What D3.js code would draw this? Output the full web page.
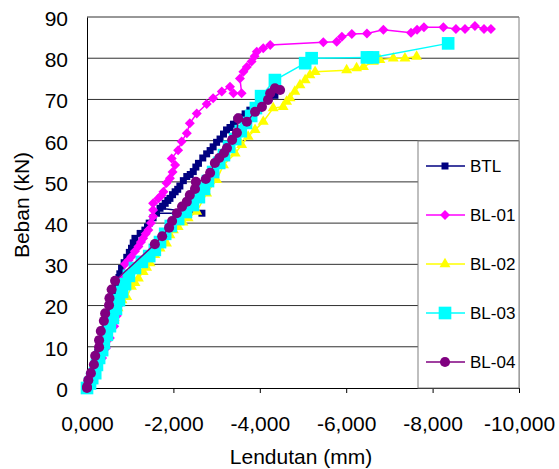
<!DOCTYPE html>
<html>
<head>
<meta charset="utf-8">
<script src="https://cdn.jsdelivr.net/npm/d3@7"></script>
<style>
  body { margin: 0; background: #fff; }
  svg text { font-family: "Liberation Sans", Arial, sans-serif; fill: #000; }
</style>
</head>
<body>
<div id="chart"></div>
<script>
// lendutan (mm), beban (kN) per benda uji
const btl = [[0,0],[-0.03,0.8],[-0.05,1.5],[-0.09,2.7],[-0.12,3.9],[-0.16,5.1],[-0.19,6.3],[-0.22,7.5],[-0.25,8.7],[-0.29,10.0],[-0.32,11.2],[-0.36,12.4],[-0.39,13.6],[-0.43,14.8],[-0.46,16.0],[-0.50,17.2],[-0.53,18.4],[-0.57,19.7],[-0.60,20.9],[-0.64,22.1],[-0.67,23.3],[-0.70,24.5],[-0.72,25.7],[-0.74,26.8],[-0.76,27.7],[-0.80,29.0],[-0.86,30.4],[-0.92,31.7],[-0.98,32.9],[-1.03,33.9],[-1.07,35.2],[-1.11,36.3],[-1.23,37.5],[-1.34,38.3],[-1.40,39.1],[-1.44,40.0],[-1.53,41.3],[-1.61,42.4],[-2.66,42.4],[-1.69,43.6],[-1.75,44.1],[-1.81,44.8],[-1.87,45.5],[-1.92,46.0],[-1.98,46.9],[-2.04,47.6],[-2.10,48.2],[-2.15,49.0],[-2.23,50.3],[-2.31,51.3],[-2.39,51.8],[-2.46,52.5],[-2.52,53.6],[-2.58,54.5],[-2.68,55.8],[-2.77,56.8],[-2.85,57.6],[-2.92,58.5],[-3.00,59.6],[-3.08,60.4],[-3.16,61.6],[-3.23,62.6],[-3.31,63.2],[-3.39,64.0],[-3.47,65.0],[-3.54,65.7],[-3.66,66.5],[-3.77,67.4],[-3.87,68.4],[-3.97,69.1],[-4.05,69.6],[-4.12,70.3],[-4.23,70.8],[-4.35,71.0]];
const bl01 = [[0,0],[-0.12,2.4],[-0.23,4.9],[-0.35,7.3],[-0.44,9.7],[-0.53,12.1],[-0.63,15.0],[-0.69,17.5],[-0.74,20.1],[-0.79,23.3],[-0.83,26.7],[-0.88,30.1],[-0.96,31.0],[-1.03,31.9],[-1.11,33.2],[-1.19,34.3],[-1.25,35.4],[-1.30,36.3],[-1.36,37.4],[-1.42,38.3],[-1.48,40.0],[-1.53,41.6],[-1.53,43.2],[-1.53,44.8],[-1.65,46.0],[-1.72,46.7],[-1.77,47.6],[-1.84,49.7],[-1.92,50.9],[-1.98,52.4],[-2.04,54.1],[-1.96,55.7],[-2.11,57.7],[-2.19,59.8],[-2.31,61.8],[-2.38,64.2],[-2.54,66.6],[-2.77,68.9],[-2.92,70.3],[-3.12,71.9],[-3.31,73.1],[-3.39,71.5],[-3.58,71.5],[-3.54,75.1],[-3.62,76.7],[-3.70,77.9],[-3.81,79.2],[-3.88,80.5],[-3.93,81.6],[-4.08,82.4],[-4.24,83.2],[-5.47,83.9],[-5.78,84.0],[-5.90,85.2],[-6.13,85.9],[-6.48,86.0],[-6.86,86.9],[-7.50,86.2],[-7.64,86.9],[-7.80,87.5],[-8.25,87.5],[-8.54,87.1],[-8.75,87.1],[-8.98,87.8],[-9.19,87.1],[-9.35,87.1]];
const bl02 = [[0,0],[-0.07,2.4],[-0.16,4.9],[-0.25,7.3],[-0.35,9.7],[-0.44,12.1],[-0.53,14.6],[-0.63,17.0],[-0.72,19.4],[-0.81,21.3],[-0.92,22.1],[-1.03,24.6],[-1.11,25.5],[-1.19,26.6],[-1.30,28.2],[-1.38,29.2],[-1.46,30.3],[-1.57,32.3],[-1.69,33.9],[-1.84,35.1],[-1.92,37.1],[-2.00,38.3],[-2.11,39.1],[-2.22,40.2],[-2.34,41.2],[-2.54,42.8],[-2.77,47.2],[-3.00,50.5],[-3.16,54.1],[-3.43,56.9],[-3.58,59.0],[-3.73,61.0],[-3.89,62.6],[-4.08,64.6],[-4.31,67.9],[-4.54,68.2],[-4.62,69.5],[-4.70,70.3],[-4.81,71.9],[-4.93,73.5],[-5.05,74.7],[-5.16,75.9],[-5.28,76.7],[-6.01,77.1],[-6.24,77.6],[-6.40,77.9],[-6.63,79.2],[-6.78,79.6],[-7.09,80.0],[-7.36,80.0],[-7.63,80.4]];
const bl03 = [[0,0],[-0.07,1.1],[-0.12,2.4],[-0.19,3.6],[-0.23,5.6],[-0.28,7.3],[-0.35,9.2],[-0.39,10.9],[-0.46,12.9],[-0.53,15.0],[-0.60,17.0],[-0.67,19.2],[-0.74,21.3],[-0.81,23.3],[-0.88,25.2],[-0.97,27.2],[-1.11,29.1],[-1.27,30.6],[-1.44,32.0],[-1.57,33.5],[-1.69,35.4],[-1.81,37.4],[-1.94,39.3],[-2.11,41.0],[-2.29,42.7],[-2.45,44.4],[-2.59,46.3],[-2.71,48.3],[-2.80,50.2],[-2.92,52.4],[-3.06,54.6],[-3.17,56.5],[-3.29,58.5],[-3.43,60.4],[-3.56,62.3],[-3.68,64.3],[-3.80,66.0],[-3.91,67.9],[-4.03,70.8],[-4.35,74.7],[-5.05,78.8],[-5.20,80.0],[-6.48,80.2],[-6.62,80.2],[-8.36,83.6]];
const bl04 = [[0,0],[0,0.3],[-0.03,1.9],[-0.09,3.6],[-0.16,5.7],[-0.19,7.8],[-0.28,9.9],[-0.28,11.6],[-0.32,13.8],[-0.39,16.3],[-0.42,18.1],[-0.51,20.1],[-0.52,21.8],[-0.57,23.9],[-0.65,26.0],[-1.57,34.9],[-1.74,36.8],[-1.90,38.9],[-1.97,40.5],[-2.08,42.4],[-2.20,44.0],[-2.31,45.2],[-2.38,46.8],[-2.50,48.3],[-2.52,50.0],[-2.75,50.7],[-2.85,52.2],[-2.96,54.6],[-3.06,55.8],[-3.17,57.0],[-3.24,58.2],[-3.36,60.2],[-3.47,61.9],[-3.50,65.4],[-3.70,64.6],[-3.89,67.0],[-4.05,68.2],[-4.19,69.9],[-4.24,71.5],[-4.35,72.7],[-4.47,72.3]];

const seriesNames = ["BTL", "BL-01", "BL-02", "BL-03", "BL-04"];
const seriesData = [btl, bl01, bl02, bl03, bl04];
const xTicks = [0, -2, -4, -6, -8, -10];
const yTicks = [0, 10, 20, 30, 40, 50, 60, 70, 80, 90];

const seriesColors = ["#000080", "#FF00FF", "#FFFF00", "#00FFFF", "#800080"];
const seriesSymbols = [
    {type: d3.symbolSquare, size: 49, rot: 0},
    {type: d3.symbolSquare, size: 50, rot: 45},
    {type: d3.symbolTriangle, size: 52, rot: 0},
    {type: d3.symbolSquare, size: 160, rot: 0},
    {type: d3.symbolCircle, size: 80, rot: 0}
];

const width = 559, height = 469;
const plot = {left: 87, right: 519, top: 17, bottom: 388};

const svg = d3.select("#chart").append("svg")
    .attr("width", width)
    .attr("height", height);

const x = d3.scaleLinear().domain([0, -10]).range([plot.left, plot.right]);
const y = d3.scaleLinear().domain([0, 90]).range([plot.bottom, plot.top]);

const fmt = d3.formatLocale({decimal: ",", thousands: ".", grouping: [3], currency: ["", ""], minus: "-"}).format(".3f");

// gridlines
svg.append("g")
    .selectAll("line")
    .data(yTicks.filter(d => d > 0))
    .join("line")
        .attr("x1", plot.left)
        .attr("x2", plot.right)
        .attr("y1", d => y(d))
        .attr("y2", d => y(d))
        .attr("stroke", "#303030")
        .attr("stroke-width", 1);

// right border of plot area
svg.append("line")
    .attr("x1", plot.right).attr("x2", plot.right)
    .attr("y1", plot.top).attr("y2", plot.bottom)
    .attr("stroke", "#808080");

// x axis
svg.append("g")
    .attr("transform", `translate(0,${plot.bottom})`)
    .call(d3.axisBottom(x).tickValues(xTicks).tickFormat(fmt).tickSizeInner(5).tickSizeOuter(0).tickPadding(23))
    .call(g => g.select(".domain").attr("stroke", "#000"))
    .call(g => g.selectAll("text").attr("font-size", 21).attr("fill", "#000"));

// y axis
svg.append("g")
    .attr("transform", `translate(${plot.left},0)`)
    .call(d3.axisLeft(y).tickValues(yTicks).tickSize(0).tickPadding(19))
    .call(g => g.select(".domain").attr("stroke", "#000"))
    .call(g => g.selectAll("text").attr("font-size", 21).attr("fill", "#000").attr("dy", "0.4em"));

// axis titles
svg.append("text")
    .attr("x", 301)
    .attr("y", 464)
    .attr("text-anchor", "middle")
    .attr("font-size", 21)
    .text("Lendutan (mm)");

svg.append("text")
    .attr("transform", `translate(29,205) rotate(-90)`)
    .attr("text-anchor", "middle")
    .attr("font-size", 21)
    .text("Beban (kN)");

// legend box (drawn before series so the curves stay on top)
const legend = {x: 418, y: 141};
svg.append("rect")
    .attr("x", legend.x)
    .attr("y", legend.y)
    .attr("width", plot.right - legend.x)
    .attr("height", plot.bottom - legend.y)
    .attr("fill", "#fff")
    .attr("stroke", "#808080");

const line = d3.line().x(d => x(d[0])).y(d => y(d[1]));

seriesData.forEach(function(data, i) {
    const g = svg.append("g");
    g.append("path")
        .attr("d", line(data))
        .attr("fill", "none")
        .attr("stroke", seriesColors[i])
        .attr("stroke-width", 1.5);
    const s = seriesSymbols[i];
    g.selectAll("path.mk")
        .data(data)
        .join("path")
            .attr("class", "mk")
            .attr("d", d3.symbol().type(s.type).size(s.size))
            .attr("transform", d => `translate(${x(d[0])},${y(d[1])}) rotate(${s.rot})`)
            .attr("fill", seriesColors[i]);
});

// legend entries
const legendY = [166, 215, 264, 313, 362];
seriesNames.forEach(function(name, i) {
    const g = svg.append("g").attr("transform", `translate(0,${legendY[i]})`);
    g.append("line")
        .attr("x1", 426).attr("x2", 465)
        .attr("y1", 0).attr("y2", 0)
        .attr("stroke", seriesColors[i])
        .attr("stroke-width", 1.5);
    const s = seriesSymbols[i];
    g.append("path")
        .attr("d", d3.symbol().type(s.type).size(s.size))
        .attr("transform", `translate(445,0) rotate(${s.rot})`)
        .attr("fill", seriesColors[i]);
    g.append("text")
        .attr("x", 470)
        .attr("y", 0)
        .attr("dy", "0.36em")
        .attr("font-size", 17)
        .text(name);
});
</script>
</body>
</html>
